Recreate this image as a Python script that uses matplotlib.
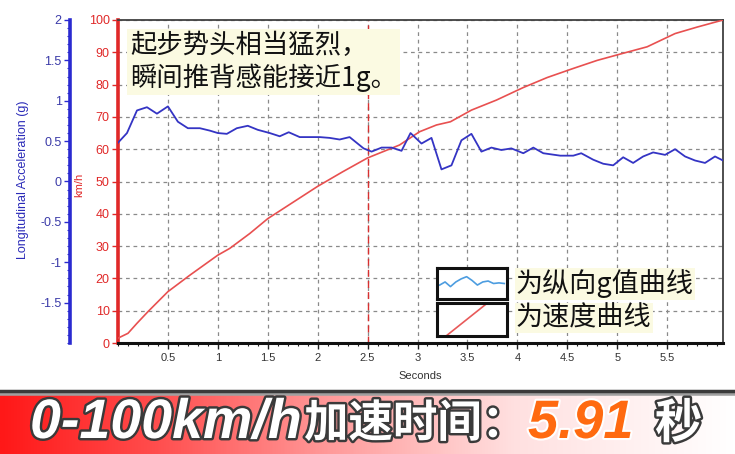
import matplotlib
matplotlib.use('Agg')
import matplotlib.pyplot as plt
import numpy as np
from matplotlib.ticker import MultipleLocator, FixedLocator
from matplotlib.colors import LinearSegmentedColormap
import matplotlib.patheffects as pe
from matplotlib.lines import Line2D

plt.rcParams['font.family'] = ['Liberation Sans', 'Noto Sans CJK SC', 'DejaVu Sans']

# ---------------- data ----------------
accel_t = [0.00, 0.09, 0.19, 0.29, 0.39, 0.50, 0.60, 0.70, 0.82, 0.92, 1.00, 1.09,
           1.19, 1.30, 1.40, 1.52, 1.62, 1.71, 1.82, 2.02, 2.12, 2.22, 2.32, 2.46,
           2.54, 2.64, 2.74, 2.84, 2.93, 3.04, 3.14, 3.24, 3.34, 3.44, 3.54, 3.64,
           3.74, 3.84, 3.94, 4.06, 4.16, 4.26, 4.43, 4.56, 4.64, 4.76, 4.86, 4.96,
           5.06, 5.16, 5.26, 5.36, 5.48, 5.58, 5.68, 5.78, 5.88, 5.98, 6.06]
accel_g = [0.48, 0.60, 0.88, 0.92, 0.84, 0.93, 0.74, 0.66, 0.66, 0.63, 0.60, 0.59,
           0.66, 0.69, 0.64, 0.60, 0.56, 0.61, 0.55, 0.55, 0.54, 0.52, 0.55, 0.41,
           0.37, 0.42, 0.42, 0.38, 0.60, 0.47, 0.54, 0.15, 0.20, 0.51, 0.59, 0.37,
           0.42, 0.39, 0.41, 0.35, 0.42, 0.35, 0.32, 0.32, 0.35, 0.27, 0.22, 0.20,
           0.30, 0.23, 0.31, 0.36, 0.33, 0.40, 0.31, 0.26, 0.23, 0.31, 0.26]

speed_t = [0.00, 0.10, 0.19, 0.30, 0.50, 0.72, 1.00, 1.12, 1.32, 1.50, 1.75, 2.00,
           2.25, 2.50, 2.82, 3.02, 3.19, 3.33, 3.54, 3.79, 4.06, 4.30, 4.56, 4.80,
           5.06, 5.30, 5.58, 5.80, 6.06]
speed_kmh = [1.5, 3.0, 6.1, 9.7, 15.9, 21.0, 27.2, 29.3, 33.9, 38.5, 43.5, 48.5,
             53.0, 57.3, 61.3, 65.4, 67.5, 68.5, 72.1, 75.2, 79.1, 82.2, 85.0, 87.5,
             89.7, 91.7, 95.8, 97.8, 100.0]

x_ticks = [0.5, 1, 1.5, 2, 2.5, 3, 3.5, 4, 4.5, 5, 5.5]
x_ticklabels = ['0.5', '1', '1.5', '2', '2.5', '3', '3.5', '4', '4.5', '5', '5.5']
kmh_ticks = [0, 10, 20, 30, 40, 50, 60, 70, 80, 90, 100]
g_ticks = [-1.5, -1, -0.5, 0, 0.5, 1, 1.5, 2]
g_ticklabels = ['-1.5', '-1', '-0.5', '0', '0.5', '1', '1.5', '2']
marker_t = 2.5

legend_wave_x = [0, 1, 2, 3, 4, 5, 6, 7, 8, 9, 10, 11, 12]
legend_wave_y = [0.45, 0.55, 0.40, 0.55, 0.65, 0.72, 0.60, 0.45, 0.55, 0.58, 0.50, 0.52, 0.50]
legend_line_x = [0.1, 0.75]
legend_line_y = [-0.05, 1.05]

annotation = '起步势头相当猛烈，\n瞬间推背感能接近1g。'
legend_labels = ['为纵向g值曲线', '为速度曲线']
banner_prefix = '0-100km/h'
banner_text = '加速时间：'
banner_value = '5.91'
banner_unit = '秒'

# ---------------- figure ----------------
W, H = 735, 454
fig = plt.figure(figsize=(W / 100, H / 100), dpi=100)
fig.patch.set_facecolor('white')

def fx(px):
    return px / W

def fy(py):
    return 1 - py / H

L, R, T, B = 118, 723, 20, 343
ax = fig.add_axes([fx(L), fy(B), (R - L) / W, (B - T) / H])
ax.set_xlim(0, 6.06)
ax.set_ylim(0, 100)

red = '#e02828'
blue = '#2a2ad0'

ax.xaxis.set_major_locator(FixedLocator(x_ticks))
ax.set_xticklabels(x_ticklabels)
ax.xaxis.set_minor_locator(MultipleLocator(0.1))
ax.set_yticks(kmh_ticks)
ax.tick_params(axis='x', which='major', length=4, width=1, colors='#222222',
               labelsize=8, pad=3, labelcolor='#333333')
ax.tick_params(axis='x', which='minor', length=2, width=0.8, colors='#222222')
ax.tick_params(axis='y', which='major', length=4, width=1, colors=red,
               labelsize=9, pad=2)
ax.grid(True, which='major', linestyle=(0, (3, 3)), color='#8a8a8a', linewidth=0.9)

for s in ['top', 'right']:
    ax.spines[s].set_color('#404040')
    ax.spines[s].set_linewidth(1.3)
ax.spines['bottom'].set_color('#111111')
ax.spines['bottom'].set_linewidth(2.2)
ax.spines['left'].set_color(red)
ax.spines['left'].set_linewidth(2.6)

ax.axvline(marker_t, color='#d83030', linestyle=(0, (5, 3)), linewidth=1.0)
ax.plot(speed_t, speed_kmh, color='#e85050', linewidth=1.2, zorder=3)

ax.set_xlabel('Seconds', fontsize=8, color='#333333', labelpad=6)
ax.set_ylabel('km/h', fontsize=8, color=red)
ax.yaxis.set_label_coords((84 - L) / (R - L), (B - 185) / (B - T))

ax2 = ax.twinx()
ax2.set_ylim(-2, 2)
ax2.yaxis.set_ticks_position('left')
ax2.yaxis.set_label_position('left')
ax2.spines['left'].set_position(('outward', 48 * 0.72))
ax2.spines['left'].set_visible(True)
ax2.spines['left'].set_color(blue)
ax2.spines['left'].set_linewidth(2.6)
for s in ['right', 'top', 'bottom']:
    ax2.spines[s].set_visible(False)
ax2.set_yticks(g_ticks)
ax2.set_yticklabels(g_ticklabels)
ax2.yaxis.set_minor_locator(MultipleLocator(0.1))
ax2.tick_params(axis='y', which='major', length=4, width=1, colors=blue,
                labelsize=9, pad=2, labelcolor='#3a3aa8')
ax2.tick_params(axis='y', which='minor', length=2, width=0.8, colors=blue)
ax2.set_ylabel('Longitudinal Acceleration (g)', fontsize=9, color='#2a2ab8')
ax2.yaxis.set_label_coords((29 - L) / (R - L), (B - 180) / (B - T))
ax2.plot(accel_t, accel_g, color='#3434c4', linewidth=1.3, zorder=4)

# annotation text
fig.text(fx(130), fy(62), annotation, fontsize=19, color='#111111',
         family=['Noto Sans CJK SC', 'DejaVu Sans'], va='center', ha='left',
         linespacing=1.25,
         bbox=dict(facecolor='#fbfae2', edgecolor='none', pad=2))

# legend icons
icon_boxes = [(437, 268, 70, 31), (437, 303, 70, 33)]
for i, (x0, y0, w, h) in enumerate(icon_boxes):
    ia = fig.add_axes([fx(x0), fy(y0 + h), w / W, h / H])
    ia.set_xticks([])
    ia.set_yticks([])
    for s in ia.spines.values():
        s.set_color('#111111')
        s.set_linewidth(2.2)
    ia.set_facecolor('white')
    if i == 0:
        ia.plot(legend_wave_x, legend_wave_y, color='#4d9de0', linewidth=1.2)
        ia.set_xlim(-0.5, 12.5)
        ia.set_ylim(0, 1)
    else:
        ia.plot(legend_line_x, legend_line_y, color='#e85a5a', linewidth=1.2)
        ia.set_xlim(0, 1)
        ia.set_ylim(0, 1)

for lab, yc in zip(legend_labels, [284, 318]):
    fig.text(fx(516), fy(yc), lab, fontsize=19.5, color='#111111',
             family=['Noto Sans CJK SC', 'DejaVu Sans'], va='center', ha='left',
             bbox=dict(facecolor='#fbfae2', edgecolor='none', pad=1))

# banner
bh = 62
bax = fig.add_axes([0, 0, 1, bh / H])
cmap = LinearSegmentedColormap.from_list(
    'banner', [(0.0, '#ff1818'), (0.2, '#ff4a4a'), (0.45, '#ff9a9a'),
               (0.7, '#ffe0e0'), (1.0, '#ffffff')])
grad = np.linspace(0, 1, 512).reshape(1, -1)
bax.imshow(grad, aspect='auto', cmap=cmap, extent=[0, 1, 0, 1])
bax.set_xlim(0, 1)
bax.set_ylim(0, 1)
bax.axis('off')
fig.add_artist(Line2D([0, 1], [fy(393), fy(393)], color='#a0a0a0', linewidth=4,
                      transform=fig.transFigure))
fig.add_artist(Line2D([0, 1], [fy(391), fy(391)], color='#3a3a3a', linewidth=2.5,
                      transform=fig.transFigure))

stroke = [pe.withStroke(linewidth=3.5, foreground='#3a3a3a')]
bfam = ['Liberation Sans', 'Noto Sans CJK SC', 'DejaVu Sans']
cfam = ['Noto Sans CJK SC', 'DejaVu Sans']
yb = fy(424)
fig.text(fx(30), yb, banner_prefix, fontsize=40, fontweight='bold', style='italic',
         color='white', family=bfam, va='center', ha='left', path_effects=stroke)
fig.text(fx(304), yb, banner_text, fontsize=32, fontweight='bold',
         color='white', family=cfam, va='center', ha='left', path_effects=stroke)
fig.text(fx(528), yb, banner_value, fontsize=39, fontweight='bold', style='italic',
         color='#ff6a10', family=bfam, va='center', ha='left',
         path_effects=[pe.withStroke(linewidth=3, foreground='#ffffff')])
fig.text(fx(655), yb, banner_unit, fontsize=34, fontweight='bold',
         color='white', family=cfam, va='center', ha='left', path_effects=stroke)

fig.savefig('out.png', dpi=100)
